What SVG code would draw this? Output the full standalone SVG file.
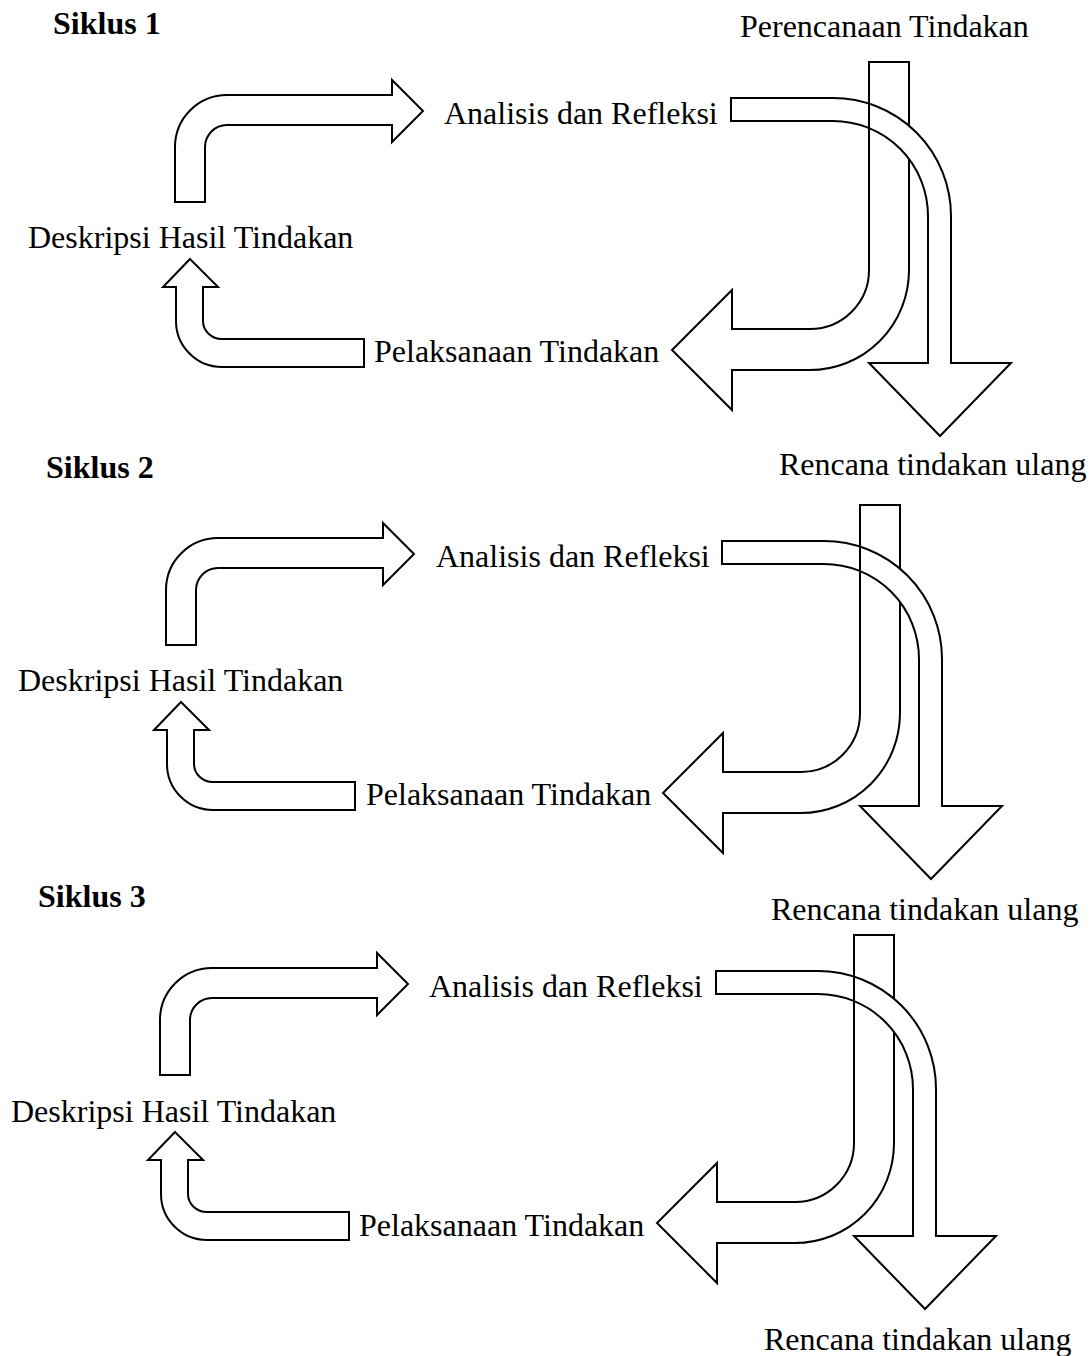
<svg xmlns="http://www.w3.org/2000/svg" xmlns:xlink="http://www.w3.org/1999/xlink" width="1092" height="1356" viewBox="0 0 1092 1356">
<style>
.t{font-family:"Liberation Serif","Times New Roman",serif;font-size:32px;fill:#000}
.h{font-family:"Liberation Serif","Times New Roman",serif;font-size:32px;font-weight:bold;fill:#000}
.ar{fill:#fff;stroke:#000;stroke-width:2;stroke-linejoin:miter}
.ln{fill:none;stroke:#000;stroke-width:2}
</style>
<defs>
<g id="cycleArrows">
<path class="ar" d="M175,202 L175,147 A52,52 0 0 1 227,95 L392,95 L392,80 L423,111 L392,142 L392,125 L227,125 A22,22 0 0 0 205,147 L205,202 Z"/>
<path class="ar" d="M190,259 L218,287 L203,287 L203,321 A19,18 0 0 0 222,339 L364,339 L364,367 L222,367 A46,46 0 0 1 176,321 L176,287 L163,287 Z"/>
<path class="ar" d="M869,62 L909,62 L909,270 A99,100 0 0 1 810,370 L732,370 L732,410 L672,350 L732,290 L732,329 L810,329 A59,59 0 0 0 869,270 Z"/>
<path class="ar" d="M731,98 L833,98 A118,118 0 0 1 951,216 L951,363 L1011,363 L940,436 L869,363 L928,363 L928,216 A95,95 0 0 0 833,121 L731,121 Z"/>
<line class="ln" x1="869" y1="62" x2="869" y2="270"/>
</g>
</defs>
<g id="connectors">
<use xlink:href="#cycleArrows" href="#cycleArrows"/>
<use xlink:href="#cycleArrows" href="#cycleArrows" transform="translate(-9,443)"/>
<use xlink:href="#cycleArrows" href="#cycleArrows" transform="translate(-15,873)"/>
</g>
<g id="siklus1"><text class="h" x="53" y="34">Siklus 1</text></g>
<g id="perencanaan1"><text class="t" x="740" y="37">Perencanaan Tindakan</text></g>
<g id="analisis1"><text class="t" x="444" y="124">Analisis dan Refleksi</text></g>
<g id="deskripsi1"><text class="t" x="28" y="248">Deskripsi Hasil Tindakan</text></g>
<g id="pelaksanaan1"><text class="t" x="374" y="362">Pelaksanaan Tindakan</text></g>
<g id="rencana1"><text class="t" x="779" y="475">Rencana tindakan ulang</text></g>
<g id="siklus2"><text class="h" x="46" y="478">Siklus 2</text></g>
<g id="analisis2"><text class="t" x="436" y="567">Analisis dan Refleksi</text></g>
<g id="deskripsi2"><text class="t" x="18" y="691">Deskripsi Hasil Tindakan</text></g>
<g id="pelaksanaan2"><text class="t" x="366" y="805">Pelaksanaan Tindakan</text></g>
<g id="rencana2"><text class="t" x="771" y="920">Rencana tindakan ulang</text></g>
<g id="siklus3"><text class="h" x="38" y="907">Siklus 3</text></g>
<g id="analisis3"><text class="t" x="429" y="997">Analisis dan Refleksi</text></g>
<g id="deskripsi3"><text class="t" x="11" y="1122">Deskripsi Hasil Tindakan</text></g>
<g id="pelaksanaan3"><text class="t" x="359" y="1236">Pelaksanaan Tindakan</text></g>
<g id="rencana3"><text class="t" x="764" y="1350">Rencana tindakan ulang</text></g>
</svg>
